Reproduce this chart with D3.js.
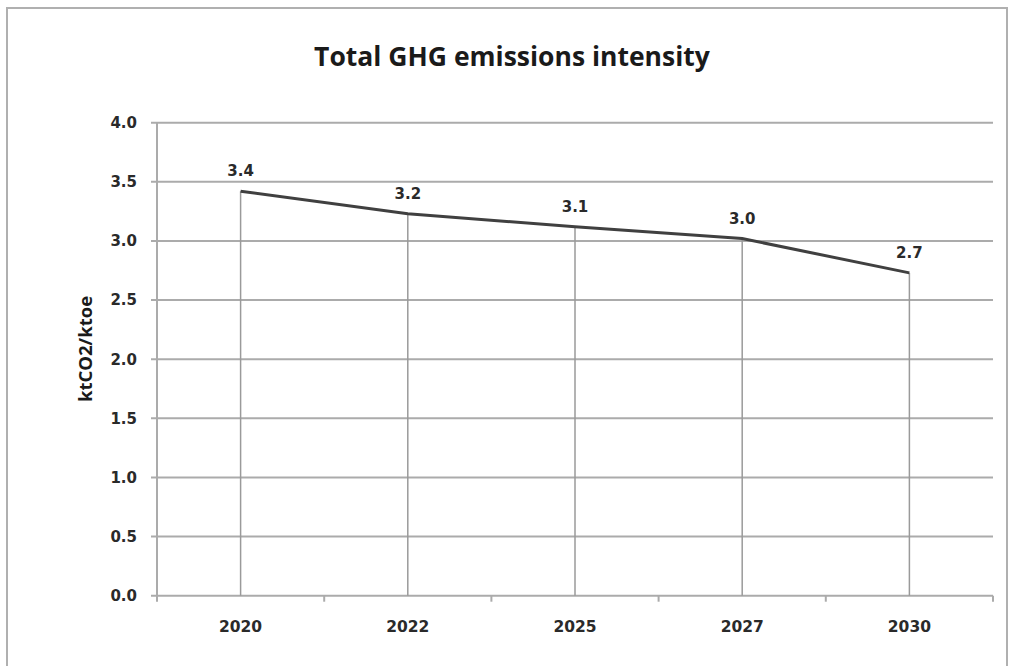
<!DOCTYPE html>
<html><head><meta charset="utf-8">
<script src="https://cdn.jsdelivr.net/npm/d3@7"></script>
<style>
html,body{margin:0;padding:0;background:#fff;}
svg{display:block;}
text{font-family:"Open Sans","DejaVu Sans",sans-serif;}
.num{font-family:"DejaVu Sans",sans-serif;font-weight:bold;}
</style></head>
<body>
<script>
const categories = ["2020","2022","2025","2027","2030"];
const values = [3.42, 3.23, 3.12, 3.02, 2.73];
const yTicks = [0,0.5,1,1.5,2,2.5,3,3.5,4];
const title = "Total GHG emissions intensity";
const yTitle = "ktCO2/ktoe";

const W = 1010, H = 666;
const svg = d3.select("body").append("svg").attr("width", W).attr("height", H);

// outer frame
svg.append("rect").attr("x", 7).attr("y", 8).attr("width", 1000).attr("height", 662)
  .attr("fill", "none").attr("stroke", "#b0b0b0").attr("stroke-width", 2);

const x = d3.scaleBand().domain(categories).range([157, 993]);
const y = d3.scaleLinear().domain([0, 4]).range([595.7, 122.7]);

// horizontal gridlines
svg.append("g").selectAll("line").data(yTicks).join("line")
  .attr("x1", 151).attr("x2", 993)
  .attr("y1", d => y(d)).attr("y2", d => y(d))
  .attr("stroke", "#ababab").attr("stroke-width", 2);

// y axis line
svg.append("line").attr("x1", 157).attr("x2", 157).attr("y1", y(4)).attr("y2", y(0))
  .attr("stroke", "#ababab").attr("stroke-width", 2);

// x axis ticks at band boundaries
const bounds = categories.map(c => x(c)).concat([x.range()[1]]);
svg.append("g").selectAll("line").data(bounds).join("line")
  .attr("x1", d => d).attr("x2", d => d)
  .attr("y1", y(0)).attr("y2", y(0) + 6)
  .attr("stroke", "#ababab").attr("stroke-width", 2);

// y tick labels
svg.append("g").selectAll("text").data(yTicks).join("text")
  .attr("class", "num")
  .attr("x", 137).attr("y", d => y(d)).attr("dy", "0.36em")
  .attr("text-anchor", "end").attr("font-size", 15)
  .attr("fill", "#2a2a2a").text(d => d.toFixed(1));

// x labels
svg.append("g").selectAll("text").data(categories).join("text")
  .attr("class", "num")
  .attr("x", d => x(d) + x.bandwidth()/2).attr("y", 632)
  .attr("text-anchor", "middle").attr("font-size", 15.5)
  .attr("fill", "#2a2a2a").text(d => d);

const cx = d => x(d) + x.bandwidth()/2;

// drop lines
svg.append("g").selectAll("line").data(categories).join("line")
  .attr("x1", d => cx(d)).attr("x2", d => cx(d))
  .attr("y1", (d,i) => y(values[i])).attr("y2", y(0))
  .attr("stroke", "#9a9a9a").attr("stroke-width", 1.5);

// line
const line = d3.line().x((d,i) => cx(categories[i])).y(d => y(d));
svg.append("path").datum(values).attr("d", line)
  .attr("fill", "none").attr("stroke", "#404040").attr("stroke-width", 3);

// data labels
svg.append("g").selectAll("text").data(values).join("text")
  .attr("class", "num")
  .attr("x", (d,i) => cx(categories[i])).attr("y", d => y(d) - 15)
  .attr("text-anchor", "middle").attr("font-size", 15)
  .attr("fill", "#2a2a2a").text(d => d.toFixed(1));

// title
svg.append("text").attr("x", 512).attr("y", 66).attr("text-anchor", "middle")
  .attr("font-size", 26.5).attr("font-weight", "bold").attr("fill", "#1a1a1a").text(title);

// y title
svg.append("text").attr("transform", "translate(92,349) rotate(-90)")
  .attr("text-anchor", "middle").attr("font-size", 18.5).attr("font-weight", "bold")
  .attr("fill", "#1a1a1a").text(yTitle);
</script>
</body></html>
